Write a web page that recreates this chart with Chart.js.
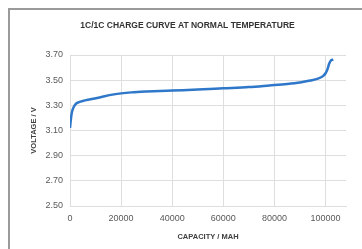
<!DOCTYPE html>
<html>
<head>
<meta charset="utf-8">
<script src="https://cdn.jsdelivr.net/npm/chart.js@4/dist/chart.umd.min.js"></script>
<style>
  html, body { margin: 0; padding: 0; background: #fff; }
  #wrap { position: relative; width: 362px; height: 249px; overflow: hidden; }
  #frame {
    position: absolute; left: 8px; top: 8px; width: 400px; height: 300px;
    border-top: 2px solid #9a9a9a; border-left: 2px solid #9a9a9a;
    pointer-events: none;
  }
  canvas { position: absolute; left: 0; top: 0; }
</style>
</head>
<body>
<div id="wrap">
  <div id="frame"></div>
  <canvas id="chart" width="362" height="249"></canvas>
</div>
<script>
// values (capacity in mAh, voltage in V)
var capacity = [0, 300, 700, 1300, 2200, 3500, 5000, 8000, 12000, 16000, 20000,
  24000, 30000, 40000, 50000, 60000, 70000, 78000, 85000, 90000, 94000, 97000,
  99000, 100000, 100800, 101400, 102000, 103000];
var voltage = [3.12, 3.18, 3.24, 3.28, 3.31, 3.325, 3.335, 3.348, 3.365, 3.383, 3.395,
  3.403, 3.41, 3.418, 3.425, 3.435, 3.445, 3.458, 3.47, 3.482, 3.497, 3.512,
  3.532, 3.555, 3.59, 3.63, 3.655, 3.665];
var xTicks = [0, 20000, 40000, 60000, 80000, 100000];
var yTicks = [2.5, 2.7, 2.9, 3.1, 3.3, 3.5, 3.7];

var points = capacity.map(function(c, i) {
  return { x: c, y: voltage[i] };
});

var gridColor = "#dedede";
var tickFont = { family: "Liberation Sans", size: 9 };

var ctx = document.getElementById("chart").getContext("2d");
var myChart = new Chart(ctx, {
  type: "line",
  data: {
    datasets: [
      {
        data: points,
        borderColor: "#2e77c9",
        borderWidth: 2.5,
        pointRadius: 0,
        cubicInterpolationMode: "monotone",
        fill: false
      }
    ]
  },
  options: {
    responsive: false,
    animation: false,
    layout: { padding: { left: 29, right: 16, top: 0, bottom: 8 } },
    plugins: {
      legend: { display: false },
      tooltip: { enabled: false },
      title: {
        display: true,
        text: "1C/1C CHARGE CURVE AT NORMAL TEMPERATURE",
        color: "#333333",
        font: { family: "Liberation Sans", size: 8.5, weight: "bold" },
        padding: { top: 21, bottom: 23.8 }
      }
    },
    scales: {
      x: {
        type: "linear",
        min: 0,
        max: 108000,
        afterBuildTicks: function(scale) {
          scale.ticks = xTicks.map(function(v) { return { value: v }; });
        },
        afterFit: function(scale) { scale.height = 35; },
        grid: { color: gridColor, drawTicks: false },
        border: { color: gridColor },
        ticks: {
          padding: 7,
          color: "#595959",
          font: tickFont,
          maxRotation: 0,
          callback: function(v) { return String(v); }
        },
        title: {
          display: true,
          text: "CAPACITY / MAH",
          color: "#404040",
          font: { family: "Liberation Sans", size: 7.5, weight: "bold" },
          padding: 0
        }
      },
      y: {
        min: 2.5,
        max: 3.7,
        afterBuildTicks: function(scale) {
          scale.ticks = yTicks.map(function(v) { return { value: v }; });
        },
        afterFit: function(scale) { scale.width = 41; },
        grid: { color: gridColor, drawTicks: false },
        border: { color: gridColor },
        ticks: {
          padding: 7,
          color: "#595959",
          font: tickFont,
          callback: function(v) { return Number(v).toFixed(2); }
        },
        title: {
          display: true,
          text: "VOLTAGE / V",
          color: "#404040",
          font: { family: "Liberation Sans", size: 7.5, weight: "bold" },
          padding: 0
        }
      }
    }
  }
});
</script>
</body>
</html>
